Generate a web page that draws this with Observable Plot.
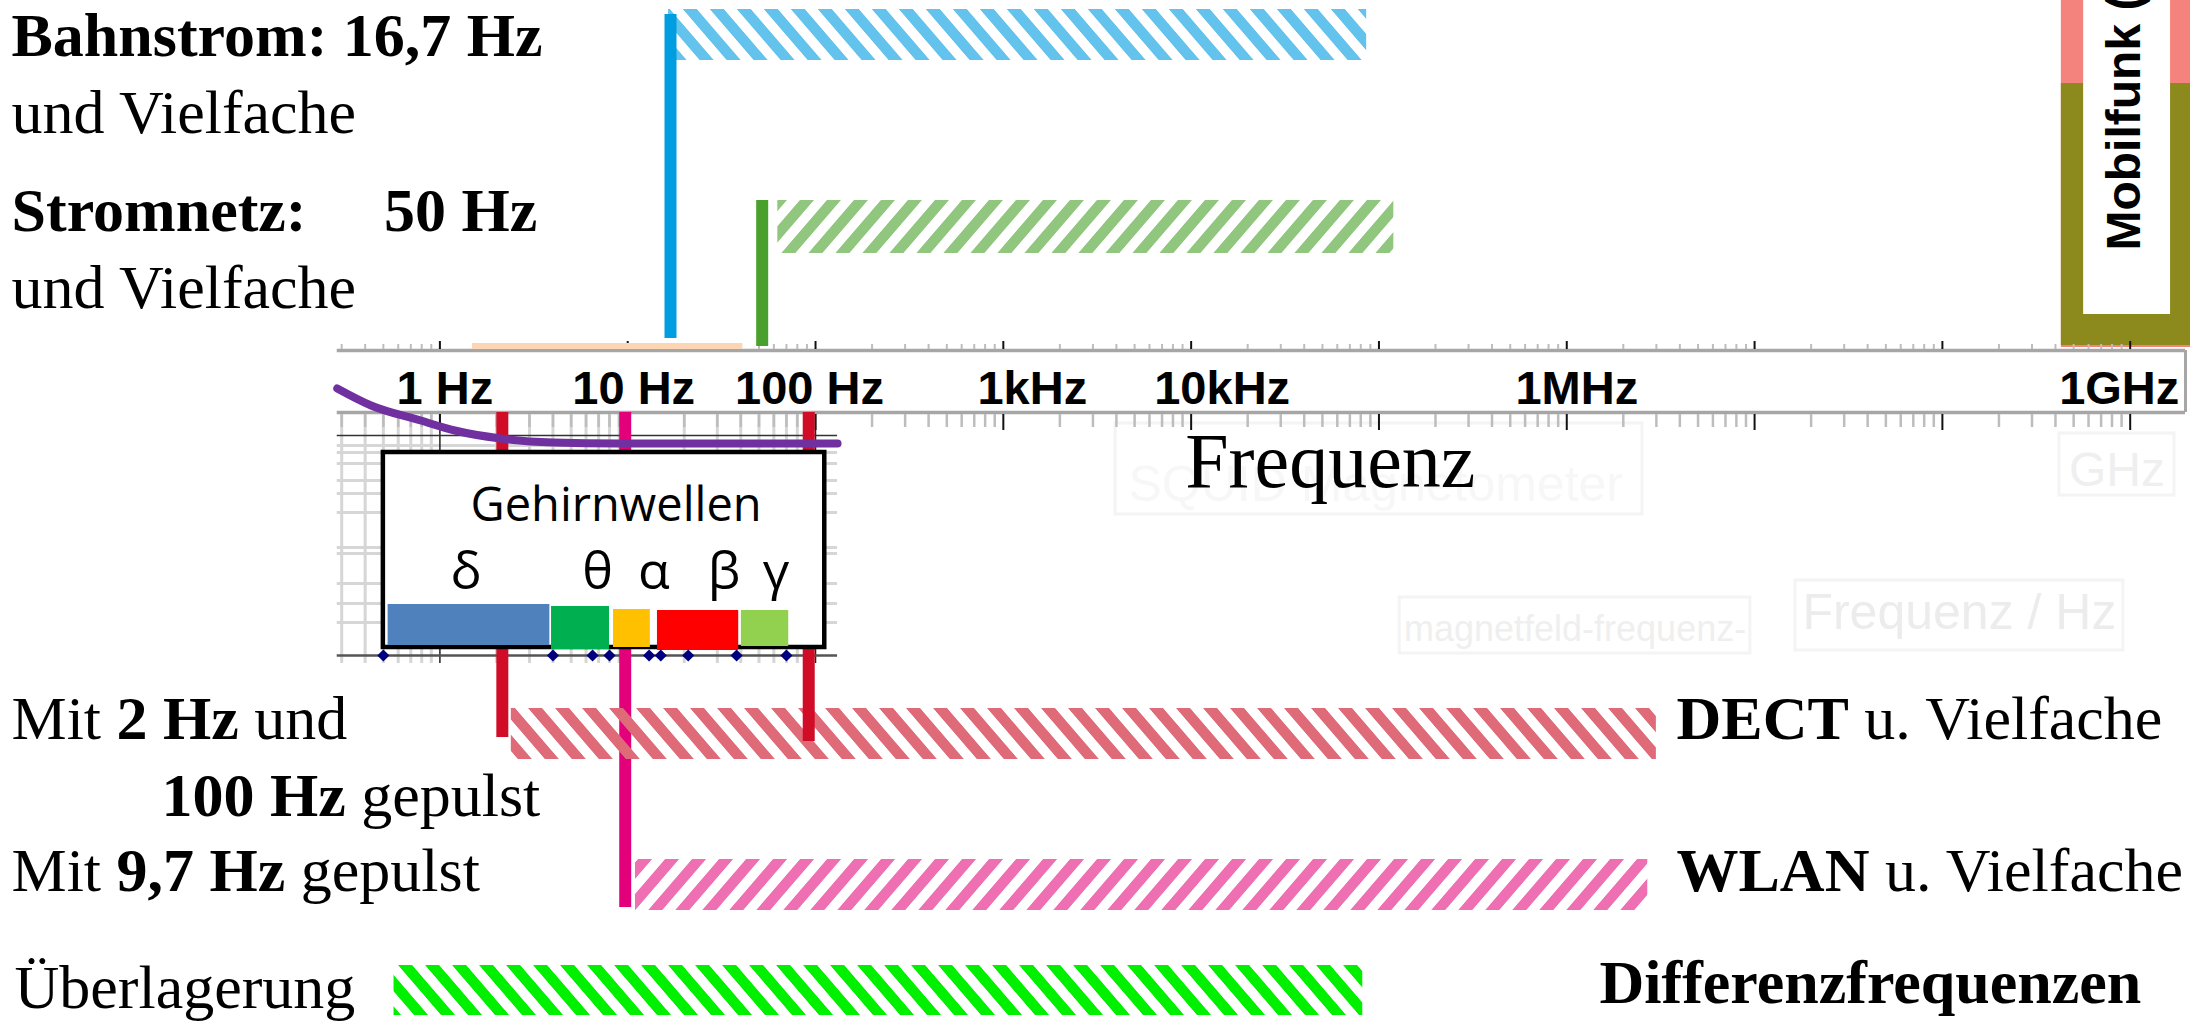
<!DOCTYPE html>
<html lang="de">
<head>
<meta charset="utf-8">
<title>Frequenzen</title>
<script src="https://cdn.jsdelivr.net/npm/d3@7"></script>
<script src="https://cdn.jsdelivr.net/npm/@observablehq/plot@0.6"></script>
<style>
html, body { margin: 0; padding: 0; background: #fff; overflow: hidden; }
#chart svg { display: block; overflow: hidden; }
</style>
</head>
<body>
<div id="chart"></div>
<script>
// ================= DATA =================
// Frequency axis (log scale)
const tickValues = [1, 10, 100, 1e3, 1e4, 1e6, 1e9];
const tickLabels = ["1 Hz", "10 Hz", "100 Hz", "1kHz", "10kHz", "1MHz", "1GHz"];

// Fundamental frequencies (solid vertical lines), Hz, as drawn
const lineNames = ["Bahnstrom", "Stromnetz", "DECT 2 Hz", "DECT 100 Hz", "WLAN"];
const lineFreqs = [16.9, 52, 2.15, 92, 9.7];

// Multiples (hatched bands): start / end frequency, Hz
const hatchNames = ["Bahnstrom", "Stromnetz", "DECT", "WLAN", "Überlagerung"];
const hatchFrom = [16.5, 63, 2.4, 11, 0.57];
const hatchTo = [8.6e4, 1.2e5, 3.0e6, 2.7e6, 8.2e4];

// Brain waves (Gehirnwellen)
const waveNames = ["δ", "θ", "α", "β", "γ"];
const waveFrom = [0.53, 3.93, 8.4, 14.4, 40.3];
const waveTo = [3.85, 8.0, 13.2, 39, 72];
const waveMarkers = [0.5, 4, 6.5, 8, 13, 15, 21, 38, 70];
const waveBoxFrom = 0.5, waveBoxTo = 112;

// Purple curve (frequency, level)
const curveFreq = [0.284, 0.43, 0.79, 1.2, 2.1, 4, 9, 131];
const curveLevel = [388, 405, 420, 430, 438, 442, 443, 443];

// Axis band / peach band / mobile band, Hz
const axisFrom = 0.284, axisTo = 1.97e9;
const peachFrom = 1.49, peachTo = 41;
const gridTo = 131;
const mobilFrom = 4.3e8, mobilTo = 3e9, mobilInnerFrom = 5.65e8, mobilInnerTo = 1.64e9;
const mobilLabel = "Mobilfunk (";
const mobilLabelAt = 9.3e8;

// Faint remnants of the underlying graphic
const ghostLabels = ["SQUID Magnetometer", "magnetfeld-frequenz-", "Frequenz / Hz", "GHz"];
const ghostFrom = [3.96e3, 1.29e5, 1.65e7, 4.2e8];
const ghostTo = [2.53e6, 9.5e6, 9.2e8, 1.72e9];

// Texts
const leftLabels = ["**Bahnstrom: 16,7 Hz**", "und Vielfache", "**Stromnetz:\u00a0\u00a0\u00a0\u00a0 50 Hz**", "und Vielfache",
  "Mit **2 Hz** und", "**100 Hz** gepulst", "Mit **9,7 Hz** gepulst", "Überlagerung"];
const rightLabels = ["**DECT** u. Vielfache", "**WLAN** u. Vielfache", "**Differenzfrequenzen**"];
const boxTitle = "Gehirnwellen";
const axisTitle = "Frequenz";
const axisTitleAt = 9.3e3;

// ================= LAYOUT / STYLE =================
const W = 2190, H = 1022;
const X_RANGE = [439.4, 2129.7];              // pixel positions of 1 Hz and 1 GHz
const SERIF = "'Liberation Serif', 'Times New Roman', 'DejaVu Serif', serif";
const SANS = "'Liberation Sans', Arial, 'DejaVu Sans', sans-serif";
const SOFT = "'Open Sans', 'Noto Sans', sans-serif";

const lineY = [[14, 338], [200, 346], [412, 737], [412, 741], [412, 907]];
const lineColors = ["#009ee0", "#4aa02c", "#d00c27", "#d00c27", "#e3007b"];
const hatchY = [[9, 60], [200, 253], [708, 759], [859, 910], [965, 1015]];
const hatchColors = ["#63c3ec", "#90c67d", "#e06b78", "#ef70b2", "#00f000"];
const hatchDir = [1, -1, 1, -1, 1];
const waveColors = ["#4f81bd", "#00b050", "#ffc000", "#ff0000", "#92d050"];
const waveY = [[604, 645], [606, 649], [609, 647], [610, 650], [610, 646]];
const waveLetterNudge = [-3, 17, 22, 26, 11];
const tickLabelNudge = [5, 6, -6, 29, 31, 10, -11];
const leftY = [55, 132, 230, 307, 738, 815, 890, 1007];
const leftX = [11, 11, 11, 11, 11, 161, 11, 14];
const rightY = [738, 890, 1002];
const rightX = [1676, 1676, 1599];
const gridLevels = [445, 452, 463, 480, 493, 512, 547, 553, 583, 603, 622];
const ghostY = [[423, 514], [597, 653], [580, 650], [433, 495]];
const ghostBase = [500, 640, 628, 485];
const ghostSize = [50, 36, 50, 48];
const ghostFill = ["#f7f7f7", "#efefef", "#ececec", "#efefef"];
const ghostAnchor = ["start", "middle", "middle", "middle"];

// log ticks from the axis structure
const allTicks = [];
for (let e = -1; e <= 9; e++) for (let k = 1; k <= 9; k++) {
  const v = +(k * Math.pow(10, e)).toPrecision(3);
  if (v >= 0.29 && v <= axisTo) allTicks.push({v, major: k === 1});
}
const minorTicks = allTicks.filter(d => !d.major).map(d => d.v);
const majorTicks = allTicks.filter(d => d.major).map(d => d.v);

// ================= MARKS =================
const marks = [];

// faint remnants
ghostLabels.forEach((t, i) => {
  marks.push(Plot.rect([i], {x1: () => ghostFrom[i], x2: () => ghostTo[i], y1: () => ghostY[i][0], y2: () => ghostY[i][1],
    fill: "none", stroke: "#f4f4f4", strokeWidth: 3}));
  marks.push(Plot.text([t], {x: () => ghostAnchor[i] === "start" ? ghostFrom[i] * 1.17 : Math.sqrt(ghostFrom[i] * ghostTo[i]),
    y: () => ghostBase[i], text: d => d, textAnchor: ghostAnchor[i], lineAnchor: "bottom",
    fontFamily: SANS, fontSize: ghostSize[i], fill: ghostFill[i]}));
});

// left grid region
marks.push(Plot.ruleX(minorTicks.filter(v => v <= gridTo), {x: d => d, y1: 412, y2: 663, stroke: "#d6d6d6", strokeWidth: 3}));
marks.push(Plot.ruleY(gridLevels, {y: d => d, x1: axisFrom, x2: gridTo, stroke: "#d6d6d6", strokeWidth: 3}));
marks.push(Plot.ruleX(majorTicks.filter(v => v <= gridTo), {x: d => d, y1: 412, y2: 663, stroke: "#222", strokeWidth: 1.5}));
marks.push(Plot.ruleY([435], {y: d => d, x1: axisFrom, x2: gridTo, stroke: "#333", strokeWidth: 1.5}));
marks.push(Plot.ruleY([655], {y: d => d, x1: axisFrom, x2: gridTo, stroke: "#555", strokeWidth: 2.5}));

// Mobilfunk block
marks.push(Plot.rect([0], {x1: mobilFrom, x2: mobilTo, y1: 0, y2: 347, fill: "#f4837d"}));
marks.push(Plot.rect([0], {x1: mobilFrom, x2: mobilTo, y1: 83, y2: 345, fill: "#8c8a1c"}));
marks.push(Plot.rect([0], {x1: mobilInnerFrom, x2: mobilInnerTo, y1: 0, y2: 314, fill: "#ffffff"}));
marks.push(Plot.text([mobilLabel], {x: mobilLabelAt, y: 250, text: d => d, rotate: -90, textAnchor: "start", lineAnchor: "middle",
  fontFamily: SANS, fontWeight: "bold", fontSize: 48, fill: "#000"}));

// axis band
marks.push(Plot.rect([0], {x1: axisFrom, x2: axisTo, y1: 350, y2: 412, fill: "#fff"}));
marks.push(Plot.ruleY([350, 412], {y: d => d, x1: axisFrom, x2: axisTo, stroke: "#a6a6a6", strokeWidth: 3.5}));
marks.push(Plot.ruleX([axisTo], {x: d => d, y1: 350, y2: 412, stroke: "#a6a6a6", strokeWidth: 3}));
marks.push(Plot.ruleX(minorTicks, {x: d => d, y1: 344, y2: 349, stroke: "#bdbdbd", strokeWidth: 2}));
marks.push(Plot.ruleX(majorTicks, {x: d => d, y1: 341, y2: 349, stroke: "#111", strokeWidth: 2}));
marks.push(Plot.ruleX(minorTicks, {x: d => d, y1: 414, y2: 427, stroke: "#bdbdbd", strokeWidth: 2.5}));
marks.push(Plot.ruleX(majorTicks, {x: d => d, y1: 414, y2: 430, stroke: "#111", strokeWidth: 2}));
marks.push(Plot.rect([0], {x1: peachFrom, x2: peachTo, y1: 343, y2: 349, fill: "#fcd5b5"}));
tickValues.forEach((v, i) => {
  marks.push(Plot.text([v], {x: d => d, y: 403, text: () => tickLabels[i], dx: tickLabelNudge[i], lineAnchor: "bottom",
    fontFamily: SANS, fontWeight: "bold", fontSize: 47, fill: "#000"}));
});

// hatch helper
const hatch = i => Plot.rect([i], {x1: () => hatchFrom[i], x2: () => hatchTo[i], y1: () => hatchY[i][0], y2: () => hatchY[i][1],
  fill: `url(#hatch${i})`});
const vline = i => Plot.ruleX([i], {x: () => lineFreqs[i], y1: () => lineY[i][0], y2: () => lineY[i][1],
  stroke: lineColors[i], strokeWidth: 12});

// Bahnstrom & Stromnetz
marks.push(hatch(0), vline(0), hatch(1), vline(1));
// WLAN line under DECT hatch, DECT lines on top
marks.push(vline(4), hatch(2), vline(2), vline(3), hatch(3), hatch(4));

// purple curve
marks.push(Plot.line(curveFreq.map((f, i) => ({f, v: curveLevel[i]})), {x: "f", y: "v", curve: "monotone-x",
  stroke: "#7030a0", strokeWidth: 8}));

// Gehirnwellen box
marks.push(Plot.rect([0], {x1: waveBoxFrom, x2: waveBoxTo, y1: 452, y2: 647, fill: "#fff", stroke: "#000", strokeWidth: 4.5}));
marks.push(Plot.text([boxTitle], {x: Math.sqrt(waveBoxFrom * waveBoxTo), y: 520, dx: 12, text: d => d, lineAnchor: "bottom",
  fontFamily: SOFT, fontSize: 47, fill: "#000"}));
waveNames.forEach((n, i) => {
  marks.push(Plot.rect([i], {x1: () => waveFrom[i], x2: () => waveTo[i], y1: () => waveY[i][0], y2: () => waveY[i][1], fill: waveColors[i]}));
  marks.push(Plot.text([n], {x: () => Math.sqrt(waveFrom[i] * waveTo[i]), y: 588, dx: waveLetterNudge[i], text: d => d,
    lineAnchor: "bottom", fontFamily: SOFT, fontSize: 52, fill: "#000"}));
});
marks.push(Plot.dot(waveMarkers, {x: d => d, y: 655, symbol: "diamond2", r: 5.5, fill: "#00007f"}));

// axis title
marks.push(Plot.text([axisTitle], {x: axisTitleAt, y: 486, text: d => d, textAnchor: "start", lineAnchor: "bottom",
  fontFamily: SERIF, fontSize: 78, fill: "#000"}));

// left / right texts
leftLabels.forEach((t, i) => marks.push(Plot.text([t], {frameAnchor: "left", y: () => leftY[i], dx: leftX[i], text: d => d,
  textAnchor: "start", lineAnchor: "bottom", fontFamily: SERIF, fontSize: 62, fill: "#000"})));
rightLabels.forEach((t, i) => marks.push(Plot.text([t], {frameAnchor: "left", y: () => rightY[i], dx: rightX[i], text: d => d,
  textAnchor: "start", lineAnchor: "bottom", fontFamily: SERIF, fontSize: 62, fill: "#000"})));

const svg = Plot.plot({
  width: W, height: H, margin: 0,
  x: {type: "log", domain: [1, 1e9], range: X_RANGE, axis: null},
  y: {domain: [0, H], range: [0, H], axis: null},
  style: {background: "#fff", overflow: "hidden"},
  marks
});

// hatch patterns
const NS = "http://www.w3.org/2000/svg";
const defs = document.createElementNS(NS, "defs");
hatchColors.forEach((c, i) => {
  const p = document.createElementNS(NS, "pattern");
  p.setAttribute("id", `hatch${i}`);
  p.setAttribute("patternUnits", "userSpaceOnUse");
  p.setAttribute("width", 27);
  p.setAttribute("height", 200);
  p.setAttribute("patternTransform", `skewX(${hatchDir[i] * 40.7})`);
  const r = document.createElementNS(NS, "rect");
  r.setAttribute("x", 0); r.setAttribute("y", 0);
  r.setAttribute("width", 14); r.setAttribute("height", 200);
  r.setAttribute("fill", c);
  p.appendChild(r);
  defs.appendChild(p);
});
svg.insertBefore(defs, svg.firstChild);

// bold segments
svg.querySelectorAll("text").forEach(t => {
  const s = t.textContent;
  if (!s.includes("**")) return;
  t.textContent = "";
  s.split("**").forEach((part, k) => {
    if (!part) return;
    const ts = document.createElementNS(NS, "tspan");
    if (k % 2) ts.setAttribute("font-weight", "bold");
    ts.textContent = part;
    t.appendChild(ts);
  });
});

document.getElementById("chart").appendChild(svg);
</script>
</body>
</html>
